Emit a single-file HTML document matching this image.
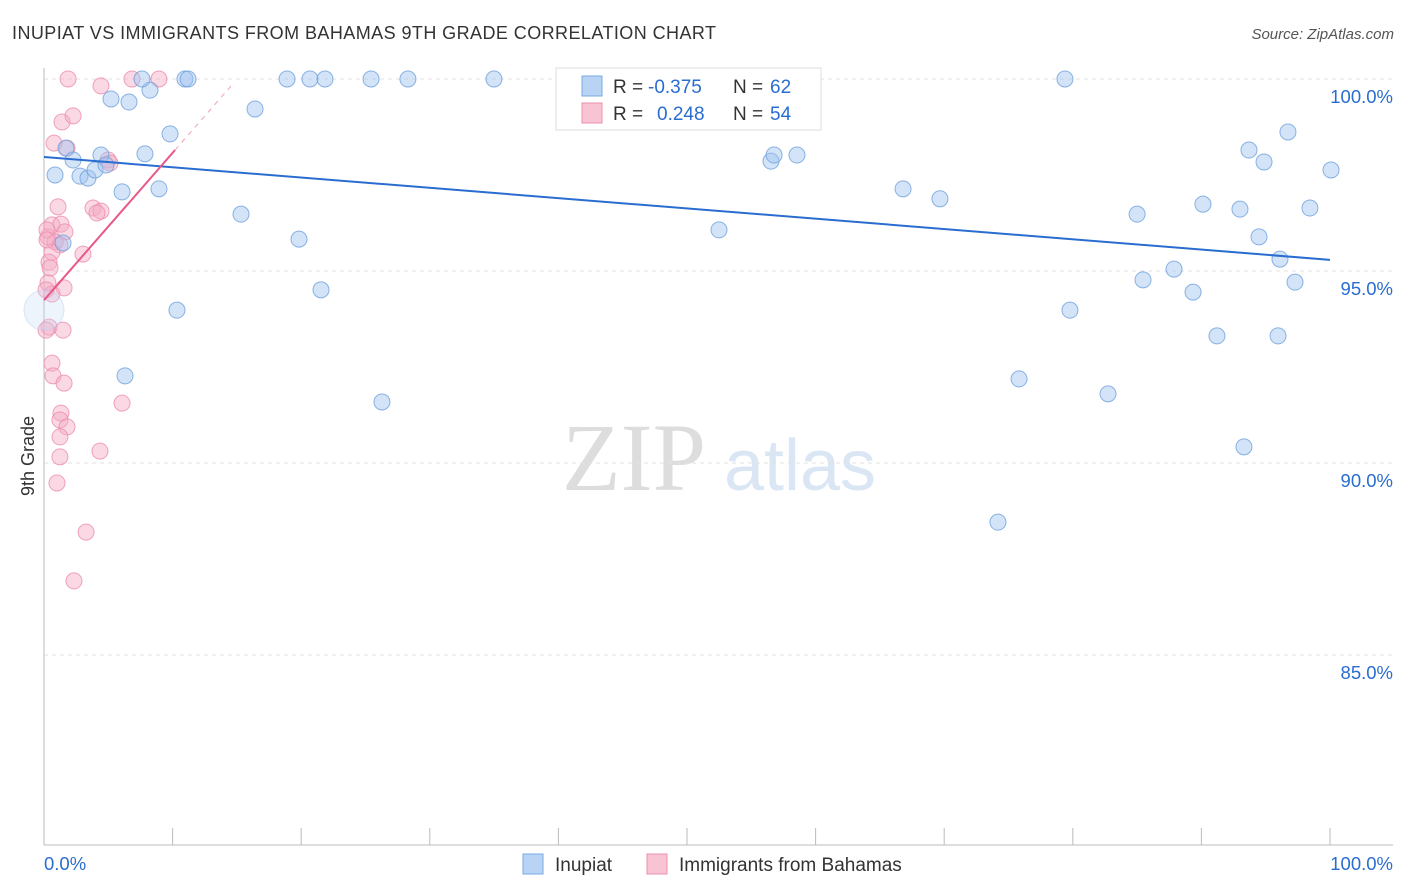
<!DOCTYPE html>
<html><head><meta charset="utf-8"><style>
body{margin:0;background:#fff;font-family:"Liberation Sans",sans-serif;}
svg{display:block}
</style></head><body>
<svg id="chart" width="1406" height="892">
<text x="12" y="39" font-size="18" fill="#333" textLength="704">INUPIAT VS IMMIGRANTS FROM BAHAMAS 9TH GRADE CORRELATION CHART</text>
<text x="1394" y="39" font-size="15" fill="#555" font-style="italic" text-anchor="end">Source: ZipAtlas.com</text>
<text x="34" y="456" font-size="18" fill="#333" text-anchor="middle" transform="rotate(-90 34 456)">9th Grade</text>
<g>
<text x="634" y="490" font-size="96" fill="#ddd" font-family="Liberation Serif,serif" text-anchor="middle">ZIP</text>
<text x="800" y="490" font-size="72" fill="#dbe6f5" text-anchor="middle">atlas</text>
</g>
<g id="grid"></g><g id="axes"></g><g id="marks"></g>
<g>
<rect x="556" y="68" width="265" height="62" fill="#fff" stroke="#ddd"/>
<rect x="582" y="76" width="20" height="20" fill="#b9d3f5" stroke="#7aa8e0"/>
<text x="613" y="93" font-size="19" fill="#333">R =</text>
<text x="648" y="93" font-size="19" fill="#2a6dd0">-0.375</text>
<text x="733" y="93" font-size="19" fill="#333">N =</text>
<text x="770" y="93" font-size="19" fill="#2a6dd0">62</text>
<rect x="582" y="103" width="20" height="20" fill="#f8c3d3" stroke="#ec90ae"/>
<text x="613" y="120" font-size="19" fill="#333">R =</text>
<text x="657" y="120" font-size="19" fill="#2a6dd0">0.248</text>
<text x="733" y="120" font-size="19" fill="#333">N =</text>
<text x="770" y="120" font-size="19" fill="#2a6dd0">54</text>
</g>
<g>
<rect x="523" y="854" width="20" height="20" fill="#b9d3f5" stroke="#7aa8e0"/>
<text x="555" y="871" font-size="19" fill="#333">Inupiat</text>
<rect x="647" y="854" width="20" height="20" fill="#f8c3d3" stroke="#ec90ae"/>
<text x="679" y="871" font-size="19" fill="#333">Immigrants from Bahamas</text>
</g>
</svg>
<script>
const yTicks=[100,95,90,85];
const yTickLabels=["100.0%","95.0%","90.0%","85.0%"];
const xTickLabels=["0.0%","100.0%"];
const blueX=[0.86,1.48,1.71,2.26,2.8,3.42,3.97,4.43,4.82,5.21,6.07,6.61,7.85,8.24,7.62,8.94,9.8,10.34,6.3,10.96,11.2,15.32,16.41,18.9,19.83,20.68,21.54,21.85,25.43,26.28,28.3,34.99,47.28,52.49,56.53,56.77,58.55,66.8,69.67,74.18,75.82,79.39,79.78,82.74,85.0,85.46,87.87,89.35,90.12,91.21,93.0,93.7,93.31,94.48,94.87,96.11,95.96,96.73,97.28,98.44,100.08,0];
const blueY=[97.5,95.73,98.2,97.89,97.47,97.42,97.63,98.02,97.76,99.48,97.06,99.4,98.05,99.71,100,97.14,98.57,93.98,92.27,100,100,96.48,99.22,100,95.83,100,94.51,100,100,91.59,100,100,100,96.07,97.86,98.02,98.02,97.14,96.88,88.46,92.19,100,93.98,91.8,96.48,94.77,95.05,94.45,96.74,93.31,96.61,98.15,90.42,95.89,97.84,95.31,93.31,98.62,94.71,96.64,97.63,93.98];
const pinkX=[1.87,4.43,6.84,8.94,1.4,2.26,0.78,1.79,4.98,5.13,1.09,3.81,4.43,4.12,0.62,1.32,1.63,0.31,0.86,1.24,0.62,3.03,0.39,0.47,0.31,1.56,0.62,0.39,1.48,0.62,0.7,1.56,6.07,1.32,1.24,1.79,1.24,1.24,4.35,1.01,3.27,2.33,0.23,0.23,0.16,0.16];
const pinkY=[100,99.82,100,100,98.88,99.04,98.33,98.2,97.89,97.81,96.67,96.64,96.56,96.51,96.2,96.22,96.02,95.89,95.76,95.68,95.49,95.44,95.23,95.08,94.69,94.56,94.4,93.54,93.46,92.6,92.27,92.08,91.56,91.3,91.12,90.94,90.68,90.16,90.31,89.48,88.2,86.93,96.07,95.81,94.51,93.46];
const blueTrend=[[0,97.97],[100,95.29]];
const pinkTrend=[[0,94.24],[10.19,98.15]];
const pinkDash=[[10.19,98.15],[14.6,99.84]];
const NS="http://www.w3.org/2000/svg";
const sx=v=>44+v*12.86, sy=v=>79+(100-v)*38.4;
function mk(t,a,p){const e=document.createElementNS(NS,t);for(const k in a)e.setAttribute(k,a[k]);p.appendChild(e);return e;}
const grid=document.getElementById('grid'),axes=document.getElementById('axes'),marks=document.getElementById('marks');
yTicks.forEach((v,i)=>{
 const l=mk('line',{x1:44,x2:1393,y1:sy(v),y2:sy(v),stroke:'#e2e2e2','stroke-dasharray':'4,4'},grid);
 
 
 const t=mk('text',{x:1393,y:sy(v)+24,'font-size':18.5,fill:'#2a6dd0','text-anchor':'end'},axes);t.textContent=yTickLabels[i];
 
 
});
const ya=mk('line',{x1:44,x2:44,y1:68,y2:845,stroke:'#bbb'},axes);


const xa=mk('line',{x1:44,x2:1393,y1:845,y2:845,stroke:'#bbb'},axes);


for(let i=0;i<=10;i++){const t=mk('line',{x1:sx(i*10),x2:sx(i*10),y1:828,y2:845,stroke:'#bbb'},axes);
 
 }
[[0,'start',xTickLabels[0]],[100,'end',xTickLabels[1]]].forEach(d=>{const t=mk('text',{x:d[0]==0?44:1393,y:870,'font-size':18.5,fill:'#2a6dd0','text-anchor':d[1]},axes);t.textContent=d[2];
 
 });
pinkX.forEach((x,i)=>{const c=mk('circle',{cx:sx(x),cy:sy(pinkY[i]),r:8,fill:'rgba(245,170,195,0.45)',stroke:'rgba(236,140,172,0.8)'},marks);
 
 });
blueX.forEach((x,i)=>{const big=i==blueX.length-1;const c=mk('circle',{cx:sx(x),cy:sy(blueY[i]),r:big?20:8,fill:big?'rgba(200,220,245,0.3)':'rgba(160,195,240,0.45)',stroke:big?'rgba(170,200,235,0.4)':'rgba(110,160,220,0.8)'},marks);
 
 });
const bl=mk('line',{x1:sx(blueTrend[0][0]),y1:sy(blueTrend[0][1]),x2:sx(blueTrend[1][0]),y2:sy(blueTrend[1][1]),stroke:'#2a6dd0','stroke-width':2},marks);


const pl=mk('line',{x1:sx(pinkTrend[0][0]),y1:sy(pinkTrend[0][1]),x2:sx(pinkTrend[1][0]),y2:sy(pinkTrend[1][1]),stroke:'#e8588a','stroke-width':2},marks);


const pd=mk('line',{x1:sx(pinkDash[0][0]),y1:sy(pinkDash[0][1]),x2:sx(pinkDash[1][0]),y2:sy(pinkDash[1][1]),stroke:'#f0a0bb','stroke-width':1,'stroke-dasharray':'5,5'},marks);


</script>
</body></html>
